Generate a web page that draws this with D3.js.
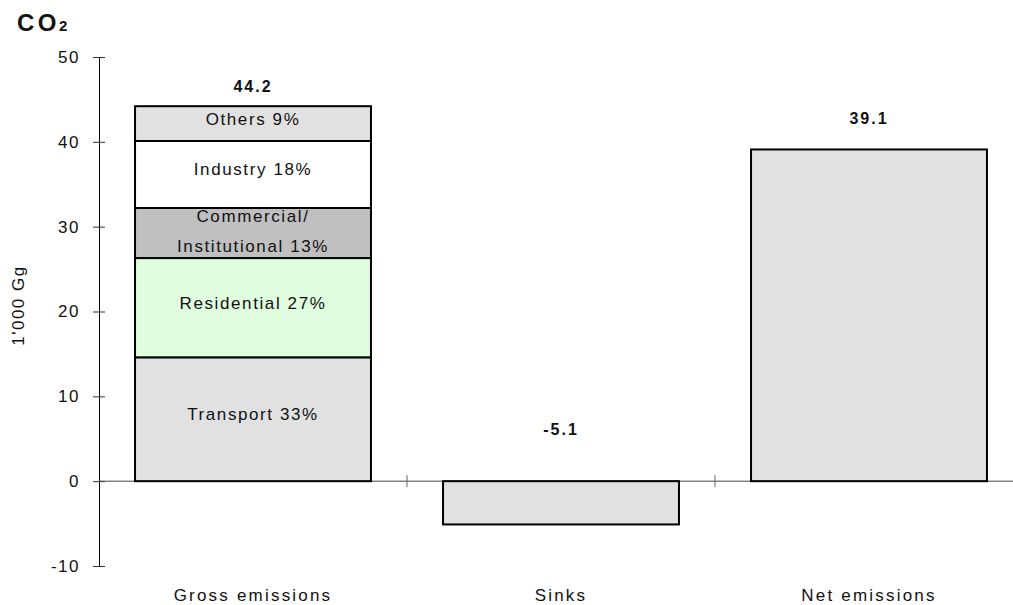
<!DOCTYPE html>
<html>
<head>
<meta charset="utf-8">
<script src="https://cdn.jsdelivr.net/npm/d3@7"></script>
<style>
	body { margin: 0; background: #fff; }
	svg text { font-family: "Liberation Sans", Arial, sans-serif; fill: #111; }
</style>
</head>
<body>
<div id="chart"></div>
<script>
// categories along the x axis
const categories = ["Gross emissions", "Sinks", "Net emissions"];
// totals shown above / on each column (1'000 Gg)
const totals = [44.2, -5.1, 39.1];
// breakdown of the gross emissions column, bottom to top
const sectorNames = ["Transport 33%", "Residential 27%", "Commercial/|Institutional 13%", "Industry 18%", "Others 9%"];
const sectorValues = [14.6, 11.7, 5.9, 7.9, 4.1];
const yTicks = [-10, 0, 10, 20, 30, 40, 50];

class CO2Chart {
	constructor() {
		this.width = 1013;
		this.height = 605;
		this.fills = ['#e1e1e1', '#e0fde0', '#c0c0c0', '#ffffff', '#e1e1e1'];

		this.svg = d3.select('#chart').append('svg')
			.attr("width", this.width)
			.attr("height", this.height);

		this.x = d3.scaleBand()
			.domain(categories)
			.range([99, 1023])
			.paddingInner(0.234)
			.paddingOuter(0.117);

		this.y = d3.scaleLinear()
			.domain([-10, 50])
			.range([566, 57]);

		this.drawAxes();
		this.drawBars();
		this.drawLabels();
	}

	drawAxes() {
		let x = this.x, y = this.y;

		// title with subscript
		let title = this.svg.append("text")
			.attr("x", 17)
			.attr("y", 31)
			.attr("font-size", 24)
			.attr("font-weight", "bold")
			.attr("letter-spacing", 3.5);
		title.append("tspan").text("CO");
		title.append("tspan").attr("font-size", 15).attr("dx", -1).text("2");

		let yAxis = this.svg.append("g")
			.attr("transform", "translate(99,0)")
			.call(d3.axisLeft(y).tickValues(yTicks).tickFormat(d => String(d))
				.tickSize(6).tickPadding(13).tickSizeOuter(0));
		yAxis.select(".domain").attr("stroke", "#000");
		yAxis.selectAll(".tick line").attr("x1", 6).attr("stroke", "#333");
		yAxis.selectAll(".tick text")
			.attr("font-size", 17)
			.attr("font-family", "Liberation Sans, Arial, sans-serif")
			.attr("letter-spacing", 1.5)
			.attr("fill", "#111");

		this.svg.append("text")
			.attr("transform", "translate(24," + ((y(50) + y(-10)) / 2 - 6) + ") rotate(-90)")
			.attr("text-anchor", "middle")
			.attr("font-size", 17)
			.attr("letter-spacing", 1.5)
			.text("1'000 Gg");

		// zero line
		this.svg.append("line")
			.attr("x1", 99).attr("x2", this.width)
			.attr("y1", y(0)).attr("y2", y(0))
			.attr("stroke", "#444");

		// category separators
		let seps = categories.slice(1).map(c => x(c) - x.step() * x.paddingInner() / 2);
		this.svg.selectAll(".sep")
			.data(seps)
			.enter().append("line")
			.attr("class", "sep")
			.attr("x1", d => d).attr("x2", d => d)
			.attr("y1", y(0) - 6).attr("y2", y(0) + 6)
			.attr("stroke", "#666");

		this.svg.selectAll(".cat")
			.data(categories)
			.enter().append("text")
			.attr("class", "cat")
			.attr("x", d => x(d) + x.bandwidth() / 2)
			.attr("y", 601)
			.attr("text-anchor", "middle")
			.attr("font-size", 17)
			.attr("letter-spacing", 2.2)
			.text(d => d);
	}

	drawBars() {
		let x = this.x, y = this.y;
		let row = {};
		sectorNames.forEach((s, i) => row[s] = sectorValues[i]);
		this.stacked = d3.stack().keys(sectorNames)([row]);

		let fills = this.fills;
		this.svg.append("g").selectAll("rect")
			.data(this.stacked)
			.enter().append("rect")
			.attr("x", x(categories[0]))
			.attr("width", x.bandwidth())
			.attr("y", d => y(d[0][1]))
			.attr("height", d => y(d[0][0]) - y(d[0][1]))
			.attr("fill", (d, i) => fills[i])
			.attr("stroke", "#000")
			.attr("stroke-width", 2);

		// sinks and net columns
		this.svg.append("g").selectAll("rect")
			.data(categories.slice(1).map((c, i) => ({ cat: c, v: totals[i + 1] })))
			.enter().append("rect")
			.attr("x", d => x(d.cat))
			.attr("width", x.bandwidth())
			.attr("y", d => y(Math.max(0, d.v)))
			.attr("height", d => Math.abs(y(d.v) - y(0)))
			.attr("fill", "#e1e1e1")
			.attr("stroke", "#000")
			.attr("stroke-width", 2);
	}

	drawLabels() {
		let x = this.x, y = this.y;
		let cx = x(categories[0]) + x.bandwidth() / 2;

		// sector labels inside the stacked column
		let seg = this.svg.append("g").selectAll("text")
			.data(this.stacked)
			.enter().append("text")
			.attr("text-anchor", "middle")
			.attr("font-size", 17)
			.attr("letter-spacing", 1.6)
			.attr("y", d => (y(d[0][0]) + y(d[0][1])) / 2 + 1);
		seg.each(function (d) {
			let lines = d.key.split("|");
			let t = d3.select(this);
			if (lines.length > 1) t.attr("y", +t.attr("y") - 12);
			lines.forEach((l, i) => {
				t.append("tspan").attr("x", cx).attr("dy", i == 0 ? 0 : 30).text(l);
			});
		});

		// totals, lifted above the column tops (sinks label sits above the zero line)
		let lift = [14, 46, 25];
		this.svg.append("g").selectAll("text")
			.data(totals)
			.enter().append("text")
			.attr("x", (d, i) => x(categories[i]) + x.bandwidth() / 2)
			.attr("y", (d, i) => y(Math.max(0, d)) - lift[i])
			.attr("text-anchor", "middle")
			.attr("font-size", 16)
			.attr("font-weight", "bold")
			.attr("letter-spacing", 2)
			.text(d => d.toFixed(1));
	}
}

new CO2Chart();
</script>
</body>
</html>
